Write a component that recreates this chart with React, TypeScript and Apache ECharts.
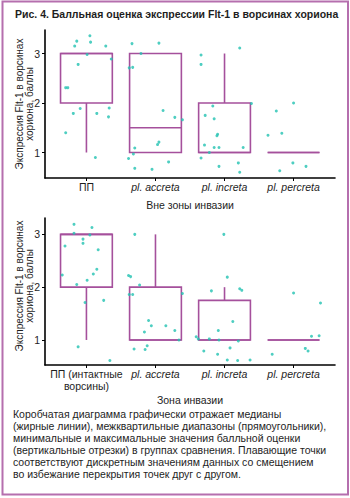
import React, { useEffect, useRef } from "react";
import * as echarts from "echarts";

const titleText = "Рис. 4. Балльная оценка экспрессии Flt-1 в ворсинах хориона";
const yAxisTitle = "Экспрессия Flt-1 в ворсинах\nхориона, баллы";
const topAxisName = "Вне зоны инвазии";
const bottomAxisName = "Зона инвазии";
const captionText =
  "Коробчатая диаграмма графически отражает медианы\n" +
  "(жирные линии), межквартильные диапазоны (прямоугольники),\n" +
  "минимальные и максимальные значения балльной оценки\n" +
  "(вертикальные отрезки) в группах сравнения. Плавающие точки\n" +
  "соответствуют дискретным значениям данных со смещением\n" +
  "во избежание перекрытия точек друг с другом.";

const categoriesTop = ["ПП", "pl. accreta", "pl. increta", "pl. percreta"];
const categoriesBottom = ["ПП (интактные\nворсины)", "pl. accreta", "pl. increta", "pl. percreta"];
const yTickValues = [1, 2, 3];
const categoryIndexes = [0, 1, 2, 3];

// [min, q1, median, q3, max]
const boxTop = [
  [1, 2, 3, 3, 3],
  [1, 1, 1.5, 3, 3],
  [1, 1, 1, 2, 3],
  [1, 1, 1, 1, 1],
];
const boxBottom = [
  [1, 2, 3, 3, 3],
  [1, 1, 1, 2, 3],
  [1, 1, 1, 1.75, 2],
  [1, 1, 1, 1, 1],
];

// jittered points: [offset within category, score]
const topPP = [[0.05, 3.36], [-0.14, 3.25], [0.06, 3.23], [-0.17, 3.15], [0.28, 3.15], [0.01, 2.98], [0.36, 2.89], [-0.12, 2.78], [-0.3, 2.31], [-0.27, 2.31], [-0.09, 1.89], [-0.19, 1.79], [0.15, 1.79], [0.33, 1.9], [0.32, 1.72], [-0.3, 1.4], [0.13, 0.9]];
const topAccreta = [[-0.34, 3.2], [0.05, 3.21], [-0.21, 3.0], [-0.38, 2.71], [-0.33, 2.72], [0.11, 1.85], [0.28, 1.71], [0.39, 1.66], [0.05, 1.21], [0.03, 1.16], [-0.3, 1.09], [-0.32, 0.97], [-0.39, 0.88], [-0.3, 0.68], [-0.05, 0.66], [0.19, 0.81]];
const topIncreta = [[0.22, 3.11], [-0.34, 2.97], [-0.34, 2.78], [0.39, 1.99], [-0.17, 1.94], [-0.28, 1.75], [-0.15, 1.68], [-0.1, 1.37], [-0.11, 1.34], [-0.29, 1.15], [-0.15, 1.1], [-0.08, 1.1], [0.27, 1.1], [-0.22, 1.0], [-0.34, 0.89], [-0.08, 0.72], [0.2, 0.79], [0.22, 0.6]];
const topPercreta = [[0.0, 2.0], [-0.25, 1.84], [-0.17, 1.39], [-0.37, 1.35], [-0.01, 0.79], [0.18, 0.72], [-0.2, 0.63]];

const bottomPP = [[-0.18, 3.19], [0.08, 3.13], [-0.18, 3.02], [0.05, 2.99], [-0.05, 2.91], [-0.05, 2.83], [-0.31, 2.78], [0.17, 2.71], [0.15, 2.34], [0.1, 2.25], [-0.35, 2.23], [0.01, 2.13], [-0.14, 2.05], [0.25, 1.75], [-0.02, 1.71], [-0.12, 0.87], [0.34, 0.61]];
const bottomAccreta = [[-0.3, 3.0], [-0.39, 2.22], [-0.36, 2.2], [-0.23, 2.04], [-0.38, 1.86], [-0.33, 1.86], [0.39, 1.88], [-0.1, 1.37], [-0.06, 1.27], [0.15, 1.27], [-0.16, 1.15], [0.28, 1.18], [0.34, 1.0], [-0.31, 0.83], [-0.12, 0.89], [-0.15, 0.82]];
const bottomIncreta = [[-0.01, 3.0], [0.04, 2.19], [-0.19, 1.93], [0.22, 1.97], [0.25, 1.94], [0.12, 1.35], [-0.09, 1.18], [-0.41, 1.06], [-0.38, 1.02], [-0.22, 1.02], [-0.08, 1.0], [0.2, 0.98], [0.08, 0.85], [-0.3, 0.79], [-0.1, 0.73], [0.04, 0.62], [0.19, 0.61], [0.37, 0.62]];
const bottomPercreta = [[0.0, 1.89], [0.39, 1.7], [0.26, 1.07], [0.37, 1.08], [0.17, 0.84], [0.21, 0.79], [-0.31, 0.73]];

const BOX_COLOR = "#a5509c";
const FRAME_COLOR = "#b56fae";
const DOT_COLOR = "#22c2b2";
const TEXT_COLOR = "#1e1e1e";
const FONT = "'Liberation Sans', Arial, Helvetica, sans-serif";

function toPoints(groups: number[][][]) {
  const out: number[][] = [];
  groups.forEach((g, ci) => g.forEach(([dx, v]) => out.push([ci + dx, v])));
  return out;
}

function boxData(stats: number[][]) {
  return stats.map((s, i) => [i, ...s]);
}

const HALF = 0.375;

function renderBox(params: any, api: any) {
  const x = api.value(0);
  const minV = api.value(1);
  const q1 = api.value(2);
  const med = api.value(3);
  const q3 = api.value(4);
  const maxV = api.value(5);
  const lo = api.coord([x - HALF, q1]);
  const hi = api.coord([x + HALF, q3]);
  const m = api.coord([x, med]);
  const pMin = api.coord([x, minV]);
  const pMax = api.coord([x, maxV]);
  const style = { stroke: BOX_COLOR, lineWidth: 1.6, fill: "none" };
  const children: any[] = [
    { type: "rect", shape: { x: lo[0], y: hi[1], width: hi[0] - lo[0], height: lo[1] - hi[1] }, style },
    { type: "line", shape: { x1: lo[0], y1: m[1], x2: hi[0], y2: m[1] }, style },
  ];
  if (minV < q1) children.push({ type: "line", shape: { x1: pMin[0], y1: lo[1], x2: pMin[0], y2: pMin[1] }, style });
  if (maxV > q3) children.push({ type: "line", shape: { x1: pMax[0], y1: hi[1], x2: pMax[0], y2: pMax[1] }, style });
  return { type: "group", children };
}

function labelFormatter(cats: string[]) {
  return (v: number) => {
    const c = cats[Math.round(v)] ?? "";
    if (c.startsWith("pl.")) return "{i|" + c + "}";
    return c;
  };
}

function xAxisCfg(gridIndex: number, cats: string[], name: string, nameGap: number) {
  return {
    type: "value",
    gridIndex,
    min: -0.6,
    max: 3.6,
    name,
    nameLocation: "middle",
    nameGap,
    nameTextStyle: { color: TEXT_COLOR, fontSize: 10.5, fontFamily: FONT },
    axisLine: { show: true, onZero: false, lineStyle: { color: "#000", width: 1.6 } },
    axisTick: { show: true, length: 3, customValues: categoryIndexes, lineStyle: { color: "#000", width: 1 } },
    axisLabel: {
      show: true,
      customValues: categoryIndexes,
      formatter: labelFormatter(cats),
      color: TEXT_COLOR,
      fontSize: 10.5,
      fontFamily: FONT,
      lineHeight: 12,
      margin: 3,
      rich: { i: { fontStyle: "italic", fontSize: 10.5, fontFamily: FONT, color: TEXT_COLOR, lineHeight: 12 } },
    },
    splitLine: { show: false },
  };
}

function yAxisCfg(gridIndex: number, min: number, max: number) {
  return {
    type: "value",
    gridIndex,
    min,
    max,
    axisLine: { show: true, onZero: false, lineStyle: { color: "#000", width: 1.6 } },
    axisTick: { show: true, length: 3, customValues: yTickValues, lineStyle: { color: "#000", width: 1 } },
    axisLabel: { show: true, customValues: yTickValues, color: TEXT_COLOR, fontSize: 10.5, fontFamily: FONT, margin: 5 },
    splitLine: { show: false },
  };
}

export default function App() {
  const ref = useRef<HTMLDivElement>(null);
  useEffect(() => {
    document.body.style.margin = "0";
    if (!ref.current) return;
    const chart = echarts.init(ref.current, undefined, { renderer: "svg" });
    chart.setOption({
      animation: false,
      backgroundColor: "#ffffff",
      textStyle: { fontFamily: FONT },
      grid: [
        { left: 45, width: 290, top: 30, height: 148 },
        { left: 45, width: 290, top: 218, height: 147 },
      ],
      xAxis: [
        xAxisCfg(0, categoriesTop, topAxisName, 21),
        xAxisCfg(1, categoriesBottom, bottomAxisName, 29),
      ],
      yAxis: [yAxisCfg(0, 0.485, 3.475), yAxisCfg(1, 0.526, 3.31)],
      series: [
        {
          type: "custom",
          xAxisIndex: 0,
          yAxisIndex: 0,
          renderItem: renderBox,
          encode: { x: 0, y: [1, 2, 3, 4, 5] },
          data: boxData(boxTop),
          z: 2,
        },
        {
          type: "custom",
          xAxisIndex: 1,
          yAxisIndex: 1,
          renderItem: renderBox,
          encode: { x: 0, y: [1, 2, 3, 4, 5] },
          data: boxData(boxBottom),
          z: 2,
        },
        {
          type: "scatter",
          xAxisIndex: 0,
          yAxisIndex: 0,
          symbol: "circle",
          symbolSize: 3,
          itemStyle: { color: DOT_COLOR },
          data: toPoints([topPP, topAccreta, topIncreta, topPercreta]),
          z: 3,
        },
        {
          type: "scatter",
          xAxisIndex: 1,
          yAxisIndex: 1,
          symbol: "circle",
          symbolSize: 3,
          itemStyle: { color: DOT_COLOR },
          data: toPoints([bottomPP, bottomAccreta, bottomIncreta, bottomPercreta]),
          z: 3,
        },
      ],
      graphic: [
        {
          type: "rect",
          shape: { x: 2.5, y: 1.5, width: 345.5, height: 493 },
          style: { fill: "none", stroke: FRAME_COLOR, lineWidth: 2 },
          silent: true,
        },
        {
          type: "text",
          x: 15,
          y: 14,
          style: { text: titleText, fill: TEXT_COLOR, font: `bold 10.5px ${FONT}`, textVerticalAlign: "middle" },
        },
        {
          type: "text",
          x: 24,
          y: 104,
          rotation: Math.PI / 2,
          style: { text: yAxisTitle, fill: TEXT_COLOR, font: `10px ${FONT}`, align: "center", verticalAlign: "middle", lineHeight: 10 },
        },
        {
          type: "text",
          x: 24,
          y: 286,
          rotation: Math.PI / 2,
          style: { text: yAxisTitle, fill: TEXT_COLOR, font: `10px ${FONT}`, align: "center", verticalAlign: "middle", lineHeight: 10 },
        },
        {
          type: "text",
          x: 13,
          y: 408,
          style: { text: captionText, fill: TEXT_COLOR, font: `10.5px ${FONT}`, lineHeight: 12 },
        },
      ],
    });
    return () => chart.dispose();
  }, []);
  return <div ref={ref} style={{ width: 350, height: 498 }} />;
}
